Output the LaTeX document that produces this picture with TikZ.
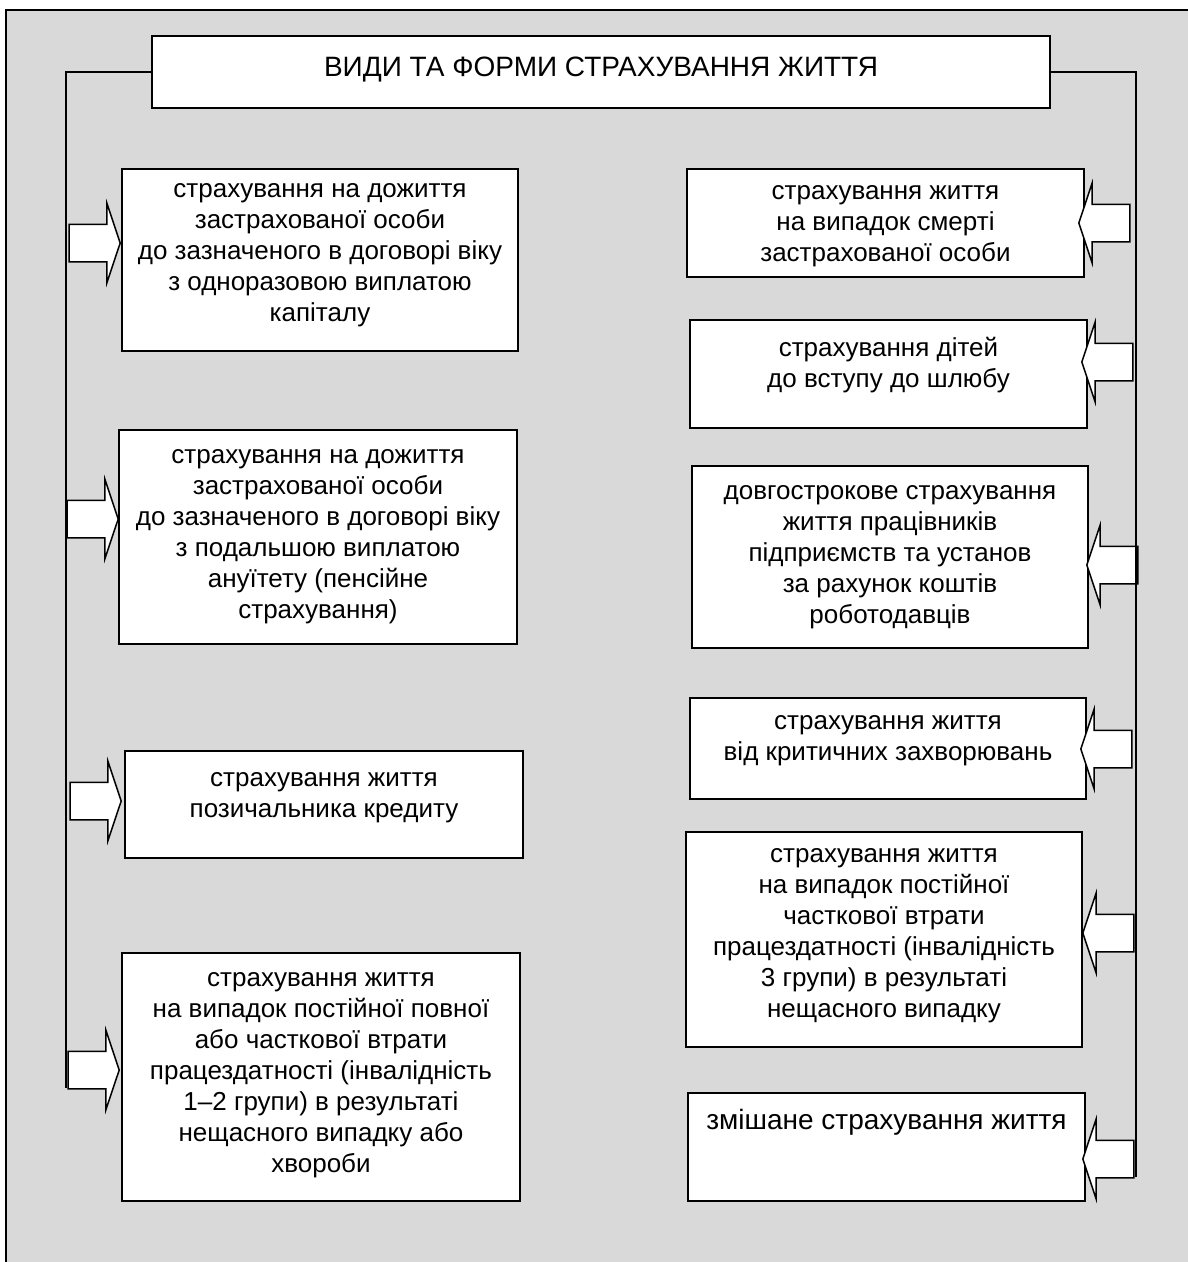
\documentclass[tikz,border=0pt]{standalone}
\usepackage{fontspec}
\setmainfont{Liberation Sans}
\usetikzlibrary{shapes.arrows}
\definecolor{panelgray}{RGB}{217,217,217}
\begin{document}
\begin{tikzpicture}[x=1pt,y=-1pt,
    box/.style={draw,fill=white,line width=1.5pt,align=center,inner sep=0pt,font=\fontsize{26}{31}\selectfont},
    lift/.style={text depth=#1},
    larrow/.style={draw,fill=white,line width=1.5pt,single arrow,single arrow head extend=21pt,single arrow tip angle=143,minimum height=51pt,inner xsep=0pt,inner ysep=18pt,anchor=tip},
    rarrow/.style={larrow,shape border rotate=180}]
  \useasboundingbox (0,0) rectangle (1187,1262);
  \draw[line width=1.5pt,fill=panelgray] (6,10) rectangle (1200,1275);
  \node[box,minimum width=898pt,minimum height=72pt,font=\fontsize{28}{32}\selectfont,lift=10pt] (title) at (601,72) {ВИДИ ТА ФОРМИ СТРАХУВАННЯ ЖИТТЯ};
  % left column
  \node[box,minimum width=396pt,minimum height=182pt,lift=14.5pt] (l1) at (320,260) {страхування на дожиття\\застрахованої особи\\до зазначеного в договорі віку\\з одноразовою виплатою\\капіталу};
  \node[box,minimum width=398pt,minimum height=214pt] (l2) at (318,537) {страхування на дожиття\\застрахованої особи\\до зазначеного в договорі віку\\з подальшою виплатою\\ануїтету (пенсійне\\страхування)};
  \node[box,minimum width=398pt,minimum height=107pt,lift=18.5pt] (l3) at (324,804.5) {страхування життя\\позичальника кредиту};
  \node[box,minimum width=398pt,minimum height=248pt,lift=9pt] (l4) at (321,1077) {страхування життя\\на випадок постійної повної\\або часткової втрати\\працездатності (інвалідність\\1–2 групи) в результаті\\нещасного випадку або\\хвороби};
  % right column
  \node[box,minimum width=397pt,minimum height=108pt,lift=0pt] (r1) at (885.5,223) {страхування життя\\на випадок смерті\\застрахованої особи};
  \node[box,minimum width=397pt,minimum height=108pt,lift=22.5pt] (r2) at (888.5,374) {страхування дітей\\до вступу до шлюбу};
  \node[box,minimum width=396pt,minimum height=182pt] (r3) at (890,557) {довгострокове страхування\\життя працівників\\підприємств та установ\\за рахунок коштів\\роботодавців};
  \node[box,minimum width=396pt,minimum height=101pt,lift=21.5pt] (r4) at (888,748.5) {страхування життя\\від критичних захворювань};
  \node[box,minimum width=396pt,minimum height=215pt,lift=13.5pt] (r5) at (884,939.5) {страхування життя\\на випадок постійної\\часткової втрати\\працездатності (інвалідність\\3 групи) в результаті\\нещасного випадку};
  \node[box,minimum width=397pt,minimum height=108pt,font=\fontsize{28}{31}\selectfont] (r6) at (886.5,1147) {змішане страхування життя\\[24pt]\mbox{}};
  % arrows
  \node[larrow] (la1) at (121,243) {};
  \node[larrow] (la2) at (119,519) {};
  \node[larrow] (la3) at (122,801) {};
  \node[larrow] (la4) at (120,1070) {};
  \node[rarrow] (ra1) at (1078,223) {};
  \node[rarrow] (ra2) at (1081,362) {};
  \node[rarrow] (ra3) at (1086,565) {};
  \node[rarrow] (ra4) at (1080,749) {};
  \node[rarrow] (ra5) at (1082,933) {};
  \node[rarrow] (ra6) at (1082,1159) {};
  % connectors
  \coordinate (lend) at (66,1088);
  \coordinate (rend) at (1136,1177);
  \draw[line width=1.3pt] (title.west) -| (lend);
  \draw[line width=1.3pt] (title.east) -| (rend);
\end{tikzpicture}
\end{document}
